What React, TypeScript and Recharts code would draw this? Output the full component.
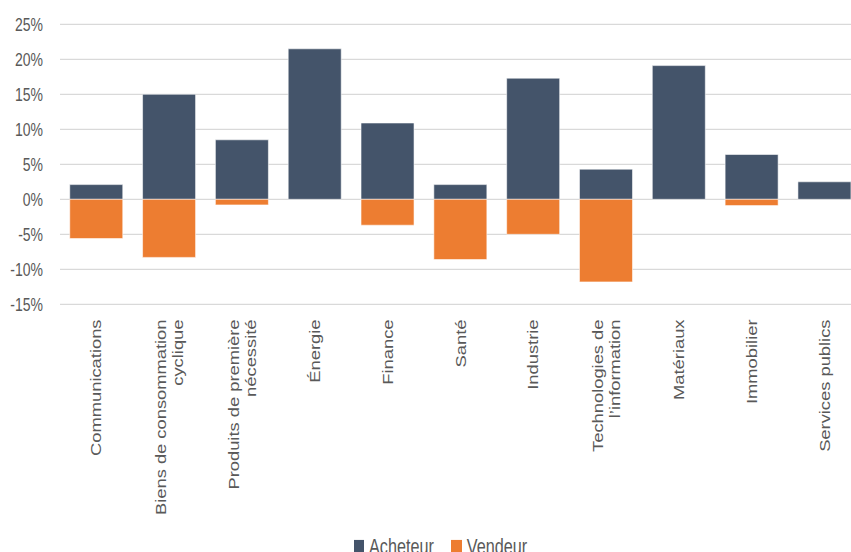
import React from 'react';
import { BarChart, Bar, XAxis, YAxis, CartesianGrid, Legend } from 'recharts';

const categories = [
  'Communications',
  'Biens de consommation\ncyclique',
  'Produits de première\nnécessité',
  'Énergie',
  'Finance',
  'Santé',
  'Industrie',
  'Technologies de\nl’information',
  'Matériaux',
  'Immobilier',
  'Services publics',
];
const acheteur = [2.1, 15.0, 8.5, 21.5, 10.9, 2.1, 17.3, 4.3, 19.1, 6.4, 2.5];
const vendeur = [-5.6, -8.3, -0.8, 0, -3.7, -8.6, -5.0, -11.8, 0, -0.9, 0];
const yTicks = [-15, -10, -5, 0, 5, 10, 15, 20, 25];
const seriesNames = ['Acheteur', 'Vendeur'];

const BLUE = '#44546A';
const ORANGE = '#ED7D31';
const TEXT = '#595959';
const FONT = "'Liberation Sans', Arial, sans-serif";
const STRETCH = 1.31;

const data = categories.map((c, i) => ({ name: c, Acheteur: acheteur[i], Vendeur: vendeur[i] }));

const YTick = (props: any) => {
  const { y, payload } = props;
  return (
    <g transform={`translate(43, ${y}) scale(1, ${STRETCH})`}>
      <text x={0} y={0} dy="0.36em" textAnchor="end" fill={TEXT} fontSize={14} fontFamily={FONT}>
        {`${payload.value}%`}
      </text>
    </g>
  );
};

const XTick = (props: any) => {
  const { x, payload } = props;
  const lines = String(payload.value).split('\n');
  const spacing = 17;
  const start = -((lines.length - 1) * spacing) / 2;
  return (
    <g transform={`translate(${x}, 319.5) scale(1, ${STRETCH}) rotate(-90)`}>
      {lines.map((l, i) => (
        <text key={i} x={0} y={start + i * spacing} dy="0.36em" textAnchor="end" fill={TEXT} fontSize={14} fontFamily={FONT}>
          {l}
        </text>
      ))}
    </g>
  );
};

const LegendBox = () => (
  <div
    style={{
      display: 'flex',
      alignItems: 'center',
      transform: `scaleY(${STRETCH})`,
      transformOrigin: 'top left',
      fontFamily: FONT,
      fontSize: 16.2,
      lineHeight: '16px',
      color: TEXT,
      whiteSpace: 'nowrap',
    }}
  >
    <span style={{ display: 'inline-block', width: 10, height: 10, background: BLUE, marginRight: 5 }} />
    <span>{seriesNames[0]}</span>
    <span style={{ display: 'inline-block', width: 11, height: 10, background: ORANGE, marginLeft: 17, marginRight: 5 }} />
    <span>{seriesNames[1]}</span>
  </div>
);

export default function App() {
  return (
    <div style={{ position: 'absolute', left: 0, top: 0, width: 851, height: 552, overflow: 'hidden', background: '#fff' }}>
      <BarChart
        width={862}
        height={552}
        data={data}
        stackOffset="sign"
        barCategoryGap="13.4%"
        margin={{ top: 24.3, right: 1, left: 0, bottom: 47.7 }}
      >
        <CartesianGrid vertical={false} stroke="#d9d9d9" strokeWidth={1.2} />
        <XAxis
          dataKey="name"
          interval={0}
          axisLine={false}
          tickLine={false}
          height={200}
          tick={<XTick />}
        />
        <YAxis
          domain={[-15, 25]}
          ticks={yTicks}
          width={60}
          axisLine={false}
          tickLine={false}
          interval={0}
          tick={<YTick />}
        />
        <Legend
          layout="horizontal"
          verticalAlign="middle"
          align="center"
          content={() => <LegendBox />}
          wrapperStyle={{ position: 'absolute', left: 354, top: 535.5, width: 'auto', height: 'auto' }}
        />
        <Bar dataKey="Acheteur" stackId="a" fill={BLUE} stroke="#ffffff" strokeOpacity={0.55} strokeWidth={1} isAnimationActive={false} />
        <Bar dataKey="Vendeur" stackId="a" fill={ORANGE} stroke="#ffffff" strokeOpacity={0.55} strokeWidth={1} isAnimationActive={false} />
      </BarChart>
    </div>
  );
}
